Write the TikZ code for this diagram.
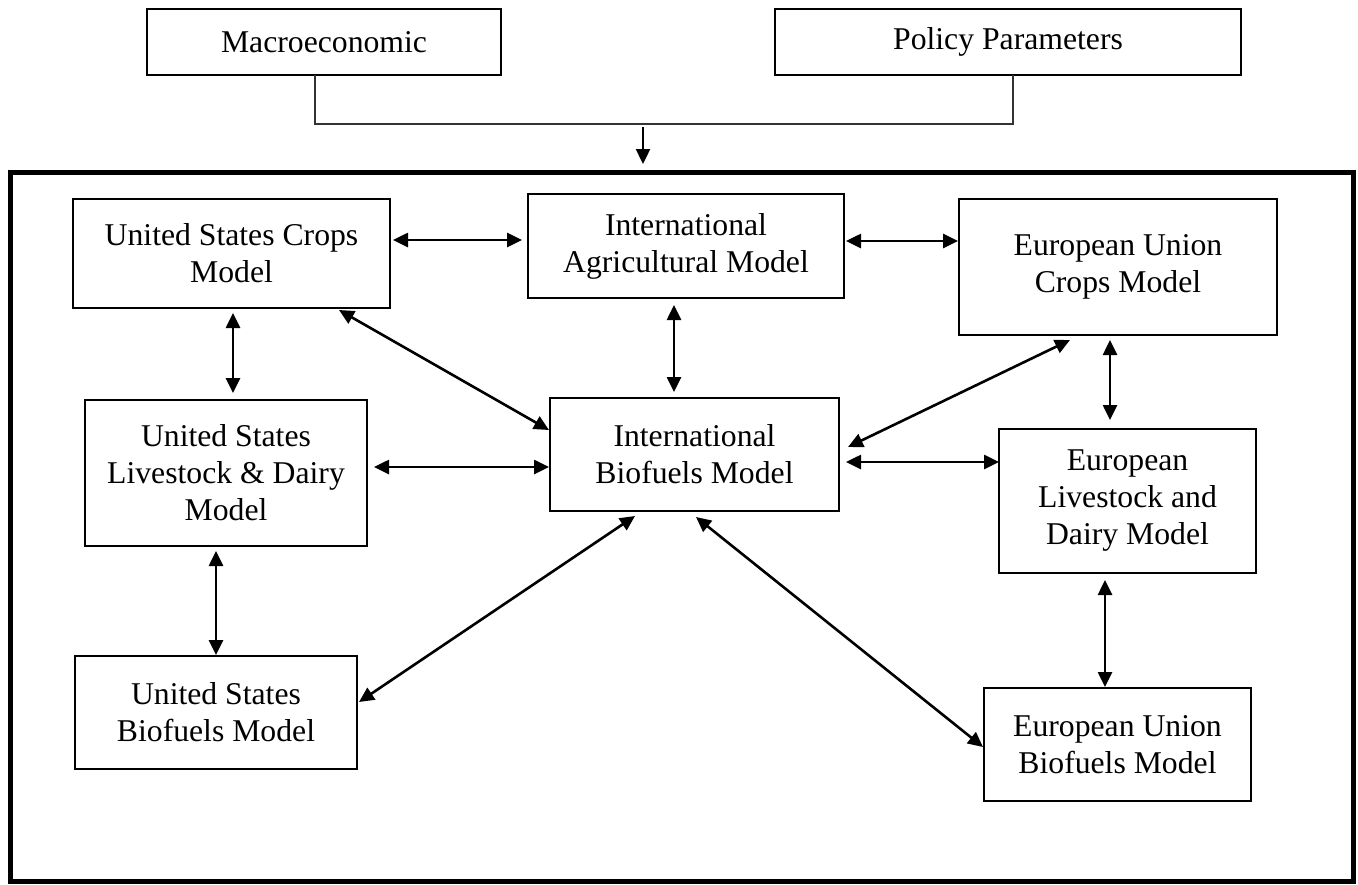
\documentclass[tikz,border=0pt]{standalone}
\usepackage{fontspec}
\setmainfont{Liberation Serif}
\usetikzlibrary{arrows.meta,calc}
\begin{document}
\begin{tikzpicture}[x=1pt,y=-1pt,
  box/.style={draw,line width=2.6pt,inner sep=0pt,outer sep=0pt,align=center,
    font=\fontsize{31.7}{37}\selectfont},
  frame/.style={draw,line width=5pt,inner sep=0pt,outer sep=0pt},
  link/.style={line width=2.6pt,{Triangle[length=15pt,width=14pt]}-{Triangle[length=15pt,width=14pt]}},
  feed/.style={line width=1.8pt,black!80},
  down/.style={line width=2.4pt,-{Triangle[length=15pt,width=14pt]}}]
\useasboundingbox (0,0) rectangle (1358,884);
\node[frame,minimum width=1343pt,minimum height=709pt] (big) at (681.5,526.5) {};
\node[box,minimum width=354pt,minimum height=66pt] (macro) at (324,42) {Macroeconomic};
\node[box,minimum width=466pt,minimum height=66pt] (policy) at (1008,42) {Policy Parameters};
\node[box,minimum width=317pt,minimum height=109pt] (uscrops) at (231.5,253.5) {United States Crops\\Model};
\node[box,minimum width=316pt,minimum height=104pt] (intlagr) at (686,246) {International\\Agricultural Model};
\node[box,minimum width=318pt,minimum height=136pt] (eucrops) at (1118,267) {European Union\\Crops Model};
\node[box,minimum width=282pt,minimum height=146pt] (uslive) at (226,473) {United States\\Livestock \& Dairy\\Model};
\node[box,minimum width=289pt,minimum height=113pt] (intlbio) at (694.5,454.5) {International\\Biofuels Model};
\node[box,minimum width=257pt,minimum height=144pt] (eulive) at (1127.5,501) {European\\Livestock and\\Dairy Model};
\node[box,minimum width=282pt,minimum height=113pt] (usbio) at (216,712.5) {United States\\Biofuels Model};
\node[box,minimum width=267pt,minimum height=113pt] (eubio) at (1117.5,744.5) {European Union\\Biofuels Model};
% feed lines
\coordinate (busR) at ($(policy.south)+(5,49)$);
\draw[feed] ($(macro.south)+(-9,0)$) |- (busR) -- ($(policy.south)+(5,0)$);
\draw[down] ($(big.north)+(-38.5,-45)$) -- ($(big.north)+(-38.5,-8)$);
% links
\draw[link] ($(uscrops.east)+(3,-13.5)$) -- ($(intlagr.west)+(-6,-6)$);
\draw[link] ($(intlagr.east)+(2,-5)$) -- ($(eucrops.west)+(-1,-26)$);
\draw[link] ($(uscrops.south)+(1.5,5)$) -- ($(uslive.north)+(7,-7)$);
\draw[link] ($(uscrops.south)+(107.5,2)$) -- ($(intlbio.west)+(-1,-24.5)$);
\draw[link] ($(intlagr.south)+(-12,7)$) -- ($(intlbio.north)+(-20.5,-6)$);
\draw[link] ($(eucrops.south)+(-48,5)$) -- ($(intlbio.east)+(9,-7.5)$);
\draw[link] ($(eucrops.south)+(-8,5)$) -- ($(eulive.north)+(-17.5,-9)$);
\draw[link] ($(uslive.east)+(7,-6)$) -- ($(intlbio.west)+(-1,12.5)$);
\draw[link] ($(intlbio.east)+(7,7.5)$) -- ($(eulive.west)+(0,-39)$);
\draw[link] ($(uslive.south)+(-10,5)$) -- ($(usbio.north)+(0,-1)$);
\draw[link] ($(intlbio.south)+(-59.5,5)$) -- ($(usbio.east)+(2,-10.5)$);
\draw[link] ($(intlbio.south)+(1.5,6)$) -- ($(eubio.west)+(-1,2.5)$);
\draw[link] ($(eulive.south)+(-22.5,7)$) -- ($(eubio.north)+(-12.5,-1)$);
\end{tikzpicture}
\end{document}
